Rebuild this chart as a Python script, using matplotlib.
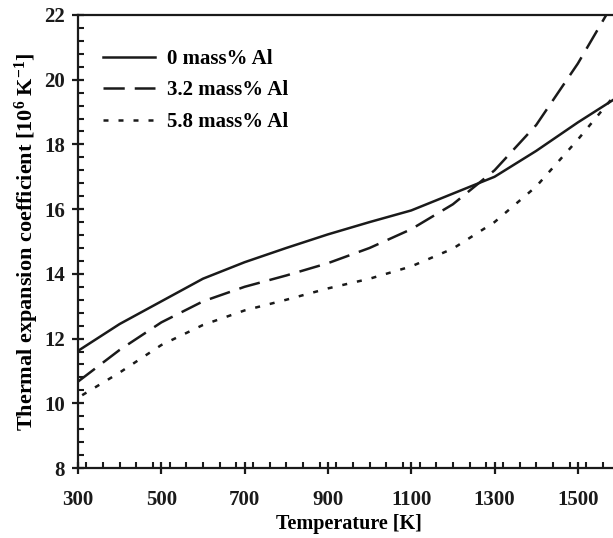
import matplotlib
matplotlib.use("Agg")
import matplotlib.pyplot as plt
from matplotlib.ticker import MultipleLocator

plt.rcParams['font.family'] = ['Liberation Serif', 'DejaVu Serif']
plt.rcParams['font.weight'] = 'bold'
plt.rcParams['mathtext.fontset'] = 'custom'
plt.rcParams['mathtext.rm'] = 'Liberation Serif:bold'
plt.rcParams['mathtext.it'] = 'Liberation Serif:italic:bold'
plt.rcParams['mathtext.bf'] = 'Liberation Serif:bold'

# Data
temp_0 = [300, 400, 500, 600, 700, 800, 900, 1000, 1100, 1200, 1300, 1400, 1500, 1600]
alpha_0 = [11.62, 12.45, 13.15, 13.85, 14.36, 14.8, 15.22, 15.6, 15.96, 16.48, 17.0, 17.8, 18.68, 19.5]

temp_32 = [300, 400, 500, 600, 700, 800, 900, 1000, 1100, 1200, 1300, 1400, 1500, 1600]
alpha_32 = [10.67, 11.65, 12.5, 13.15, 13.6, 13.95, 14.33, 14.8, 15.38, 16.15, 17.2, 18.6, 20.5, 22.7]

temp_58 = [310, 400, 500, 600, 700, 800, 900, 1000, 1100, 1200, 1300, 1400, 1500, 1600]
alpha_58 = [10.25, 10.95, 11.8, 12.42, 12.87, 13.2, 13.55, 13.85, 14.23, 14.78, 15.6, 16.7, 18.15, 19.7]

labels = ["0 mass% Al", "3.2 mass% Al", "5.8 mass% Al"]
x_ticks = [300, 500, 700, 900, 1100, 1300, 1500]
y_ticks = [8, 10, 12, 14, 16, 18, 20, 22]

fig = plt.figure(figsize=(6.13, 5.38), dpi=100)
ax = fig.add_axes([78/613, 70/538, 541.5/613, 453/538])

lw = 1.8
ax.plot(temp_0, alpha_0, color='#1a1a1a', lw=lw, linestyle='-', label=labels[0])
ax.plot(temp_32, alpha_32, color='#1a1a1a', lw=lw, linestyle=(0, (8.5, 4)), label=labels[1])
ax.plot(temp_58, alpha_58, color='#1a1a1a', lw=lw, linestyle=(0, (2, 4)), label=labels[2])

ax.set_xlim(300, 1600)
ax.set_ylim(8, 22)
ax.set_xticks(x_ticks)
ax.set_yticks(y_ticks)
ax.xaxis.set_minor_locator(MultipleLocator(40))
ax.yaxis.set_minor_locator(MultipleLocator(0.4))

for s in ax.spines.values():
    s.set_linewidth(1.6)
    s.set_color('#1a1a1a')

ax.tick_params(axis='both', which='major', direction='inout', length=9, width=1.6,
               labelsize=15, colors='#1a1a1a')
ax.tick_params(axis='both', which='minor', direction='in', length=4.5, width=1.5, colors='#1a1a1a')
ax.tick_params(axis='x', which='major', pad=11)
ax.tick_params(axis='y', which='major', pad=5)

ax.set_xlabel("Temperature [K]", fontsize=14.5, fontweight='bold', labelpad=3)
ax.set_ylabel(r"Thermal expansion coefficient [10$^{6}$ K$^{-1}$]", fontsize=16,
              fontweight='bold', labelpad=2)

leg = ax.legend(loc='upper left', bbox_to_anchor=(0.046, 0.925), frameon=False,
                borderpad=0, borderaxespad=0, handlelength=2.5, handletextpad=0.6,
                labelspacing=0.55, prop={'family': 'Liberation Serif', 'weight': 'bold', 'size': 15})

fig.savefig("out.png", dpi=100)
